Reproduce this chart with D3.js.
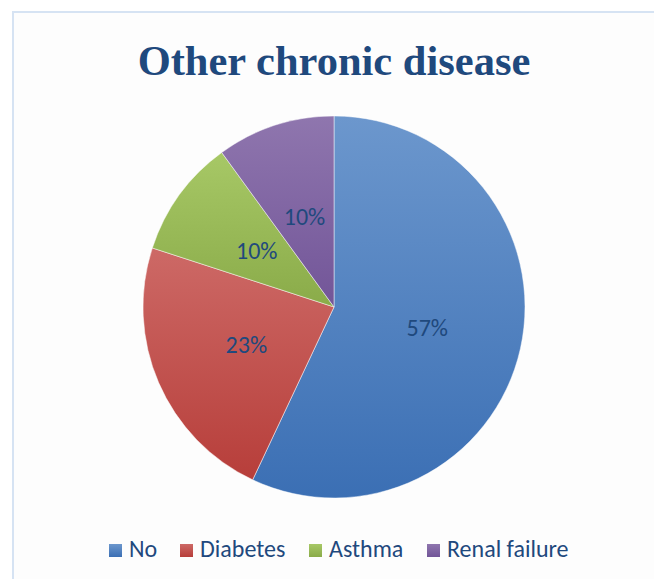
<!DOCTYPE html>
<html>
<head>
<meta charset="utf-8">
<script src="https://cdn.jsdelivr.net/npm/d3@7"></script>
<style>
  html, body { margin: 0; padding: 0; background: #ffffff; }
  svg { display: block; }
</style>
</head>
<body>
<svg id="chart" width="654" height="579"></svg>
<script>
const categories = ["No", "Diabetes", "Asthma", "Renal failure"];
const values = [57, 23, 10, 10];
const colorsTop = ["#6c97cd", "#cd6966", "#a7c866", "#8f76ae"];
const colorsBottom = ["#3b6fb4", "#b73e3a", "#8aab49", "#725598"];
const title = "Other chronic disease";

const svg = d3.select("#chart");
const W = 654, H = 579;

// chart border
svg.append("rect")
  .attr("x", 13).attr("y", 12)
  .attr("width", W).attr("height", H)
  .attr("fill", "#fdfdfd")
  .attr("stroke", "#d6e3f3").attr("stroke-width", 2);

// title
svg.append("text")
  .attr("x", 334).attr("y", 75)
  .attr("text-anchor", "middle")
  .attr("font-family", "'Liberation Serif', 'Times New Roman', serif")
  .attr("font-weight", "bold")
  .attr("font-size", 42.5)
  .attr("fill", "#1f497d")
  .text(title);

const defs = svg.append("defs");
categories.forEach((c, i) => {
  const g = defs.append("linearGradient")
    .attr("id", "grad" + i)
    .attr("x1", 0).attr("y1", 0).attr("x2", 0).attr("y2", 1);
  g.append("stop").attr("offset", "0%").attr("stop-color", colorsTop[i]);
  g.append("stop").attr("offset", "100%").attr("stop-color", colorsBottom[i]);
});

const cx = 334, cy = 307, R = 191;
const pie = d3.pie().sort(null).value(d => d)(values);
const arc = d3.arc().innerRadius(0).outerRadius(R);
const labelArc = d3.arc().innerRadius(R * 0.5).outerRadius(R * 0.5);

const g = svg.append("g").attr("transform", `translate(${cx},${cy})`);
g.selectAll("path.slice")
  .data(pie)
  .join("path")
  .attr("class", "slice")
  .attr("d", arc)
  .attr("fill", (d, i) => `url(#grad${i})`)
  .attr("stroke", "#ffffff")
  .attr("stroke-opacity", 0.6)
  .attr("stroke-width", 0.8);

const fmt = d3.format(".0%");
g.selectAll("text.lbl")
  .data(pie)
  .join("text")
  .attr("class", "lbl")
  .attr("transform", d => `translate(${labelArc.centroid(d)})`)
  .attr("text-anchor", "middle")
  .attr("dominant-baseline", "central")
  .attr("font-family", "Carlito, Calibri, Lato, sans-serif")
  .attr("font-size", 24)
  .attr("fill", "#1f497d")
  .text(d => fmt(d.data / d3.sum(values)));

// legend
const legendX = [109, 180, 309, 427];
const lg = svg.append("g");
categories.forEach((c, i) => {
  lg.append("rect")
    .attr("x", legendX[i]).attr("y", 544)
    .attr("width", 13).attr("height", 13)
    .attr("fill", `url(#grad${i})`);
  lg.append("text")
    .attr("x", legendX[i] + 20).attr("y", 557)
    .attr("font-family", "Carlito, Calibri, Lato, sans-serif")
    .attr("font-size", 24)
    .attr("fill", "#1f497d")
    .text(c);
});
</script>
</body>
</html>
